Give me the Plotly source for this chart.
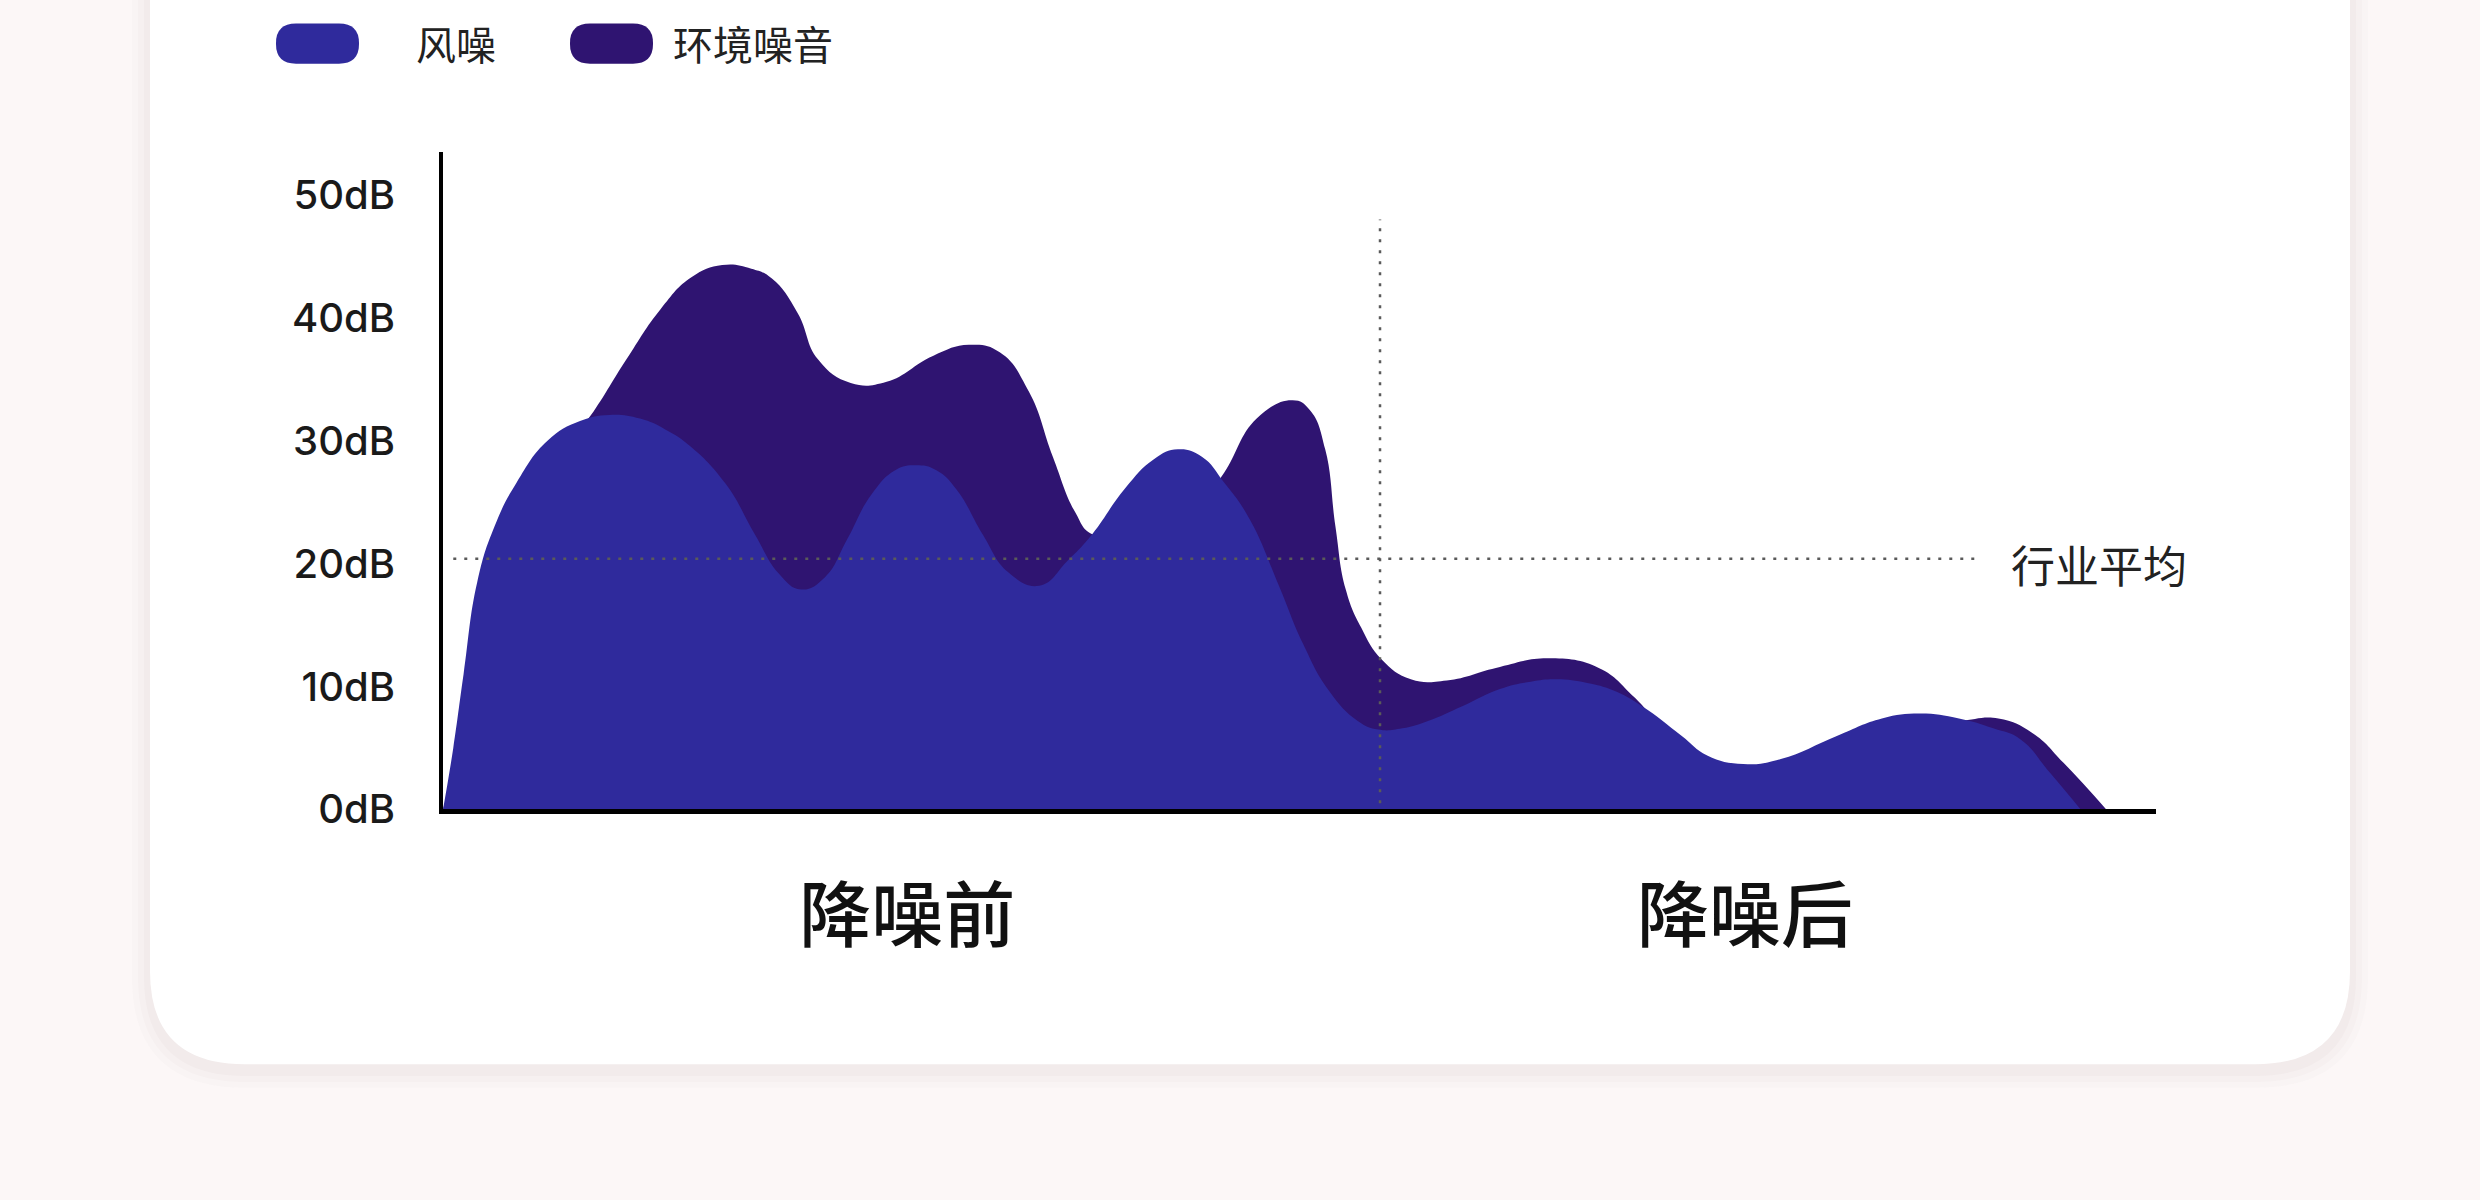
import plotly.graph_objects as go

W, H = 2480, 1200   # design size; all positions are expressed as fractions of it

# ---------------- data ----------------
wind_x = [0, 0.6, 1.2, 2.0, 3.0, 4.3, 6.1, 8.0, 9.7, 11.5, 13.0, 14.4, 16.5, 18.2, 19.6,
          20.9, 22.3, 23.6, 25.0, 26.4, 27.6, 28.8, 30.0, 31.5, 33.0, 34.8, 36.5, 37.9,
          39.8, 41.5, 42.9, 44.3, 45.6, 47.1, 48.8, 50.2, 51.7, 53.4, 54.6, 56.0, 57.5,
          59.5, 61.7, 63.5, 65.0, 66.8, 68.3, 70.0, 72.3, 73.8, 75.9, 78.1, 81.4, 84.0,
          86.2, 88.5, 90.5, 92.1, 93.8, 95.6]
wind_db = [0, 5.0, 11.0, 18.5, 23.0, 26.6, 30.0, 31.6, 32.1, 31.8, 30.9, 29.6, 26.5, 22.4,
           19.2, 17.9, 18.9, 22.0, 25.6, 27.6, 28.0, 27.6, 26.0, 22.4, 19.3, 18.2, 20.3, 22.4,
           26.1, 28.5, 29.3, 28.7, 26.6, 23.6, 18.2, 13.5, 9.7, 7.2, 6.5, 6.6, 7.2,
           8.4, 9.8, 10.4, 10.6, 10.3, 9.7, 8.4, 6.0, 4.4, 3.7, 4.1, 6.0, 7.4,
           7.8, 7.4, 6.6, 5.7, 3.0, 0]

env_x = [0, 5.0, 7.5, 8.8, 10.7, 12.7, 14.5, 16.3, 18.0, 19.2, 20.7, 21.9, 23.8, 25.9,
         28.6, 30.7, 32.5, 34.2, 35.6, 36.9, 37.9, 40.0, 42.5, 44.5, 45.6, 47.5, 49.6,
         50.6, 51.5, 52.1, 52.7, 53.6, 54.8, 56.5, 58.6, 61.7, 64.5, 67.5, 69.5, 71.0,
         74.0, 78.0, 82.0, 86.0, 88.5, 90.8, 92.8, 94.6, 97.1]
env_db = [0, 22, 30, 32.4, 36.6, 40.7, 43.3, 44.3, 44.0, 43.2, 40.4, 36.6, 34.7, 34.8,
          36.9, 37.8, 37.2, 34.0, 28.7, 24.2, 22.4, 22.5, 23.5, 25.5, 27.4, 31.8, 33.3,
          32.5, 29.3, 23.0, 17.9, 14.8, 12.2, 10.6, 10.5, 11.6, 12.3, 11.5, 9.2, 7.0,
          3.5, 3.3, 5.0, 7.0, 7.2, 7.4, 6.2, 3.8, 0]

series_names = ["风噪", "环境噪音"]
y_tick_vals = [0, 10, 20, 30, 40, 50]
y_tick_text = ["0dB", "10dB", "20dB", "30dB", "40dB", "50dB"]
cat_pos = [27.1, 76.0]
cat_labels = ["降噪前", "降噪后"]
industry_avg = 20.4
industry_label = "行业平均"
divider_x = 54.7

# ---------------- style ----------------
WIND_C = "#2f2a9c"
ENV_C = "#2f1471"
BG = "#fcf7f7"
CJK = "Noto Sans CJK SC"
LAT = "Inter, Lato, sans-serif"


def rrect(x0, y0, x1, y1, r):
    """rounded rectangle path in paper coords from design-pixel coords (y down)."""
    def P(x, y):
        return f"{x / W:.6f},{1 - y / H:.6f}"
    return (f"M{P(x0 + r, y0)} L{P(x1 - r, y0)} Q{P(x1, y0)} {P(x1, y0 + r)} "
            f"L{P(x1, y1 - r)} Q{P(x1, y1)} {P(x1 - r, y1)} L{P(x0 + r, y1)} "
            f"Q{P(x0, y1)} {P(x0, y1 - r)} L{P(x0, y0 + r)} Q{P(x0, y0)} {P(x0 + r, y0)} Z")


fig = go.Figure()
fig.add_trace(go.Scatter(x=env_x, y=env_db, name=series_names[1], mode="lines",
                         line=dict(width=0, shape="spline", smoothing=1.3, color=ENV_C),
                         fill="tozeroy", fillcolor=ENV_C, showlegend=False, hoverinfo="skip"))
fig.add_trace(go.Scatter(x=wind_x, y=wind_db, name=series_names[0], mode="lines",
                         line=dict(width=0, shape="spline", smoothing=1.3, color=WIND_C),
                         fill="tozeroy", fillcolor=WIND_C, showlegend=False, hoverinfo="skip"))

shapes = []
# card shadow + card
for i, a in enumerate([0.018, 0.022, 0.03]):
    g = 18 - i * 6
    shapes.append(dict(type="path", xref="paper", yref="paper", layer="below",
                       path=rrect(150 - g, -120, 2350 + g, 1086 + g + 6, 95 + g),
                       fillcolor=f"rgba(120,90,90,{a})", line=dict(width=0)))
shapes.append(dict(type="path", xref="paper", yref="paper", layer="below",
                   path=rrect(150, -120, 2350, 1086, 95),
                   fillcolor="#ffffff", line=dict(width=0)))
# legend pills
shapes.append(dict(type="path", xref="paper", yref="paper", layer="above",
                   path=rrect(276, 24, 359, 65, 20), fillcolor=WIND_C, line=dict(width=0)))
shapes.append(dict(type="path", xref="paper", yref="paper", layer="above",
                   path=rrect(570, 24, 653, 65, 20), fillcolor=ENV_C, line=dict(width=0)))
# dotted reference lines
shapes.append(dict(type="line", xref="x", yref="y", x0=0.6, x1=89.7, y0=industry_avg,
                   y1=industry_avg, layer="above",
                   line=dict(color="#5a5a5a", width=2.5, dash="3px,8px")))
shapes.append(dict(type="line", xref="x", yref="y", x0=divider_x, x1=divider_x, y0=0.5,
                   y1=48, layer="above",
                   line=dict(color="#5a5a5a", width=2.5, dash="3px,8px")))

annotations = [
    dict(xref="paper", yref="paper", x=414 / W, y=1 - 44 / H, xanchor="left", yanchor="middle",
         text=series_names[0], showarrow=False, font=dict(family=CJK, size=40, color="#222222")),
    dict(xref="paper", yref="paper", x=671 / W, y=1 - 44 / H, xanchor="left", yanchor="middle",
         text=series_names[1], showarrow=False, font=dict(family=CJK, size=40, color="#222222")),
    dict(xref="x", yref="y", x=91.4, y=20.0, xanchor="left", yanchor="middle",
         text=industry_label, showarrow=False, font=dict(family=CJK, size=44, color="#222222")),
]

fig.update_layout(
    autosize=True,
    margin=dict(l=0, r=0, t=0, b=0),
    paper_bgcolor=BG, plot_bgcolor="rgba(0,0,0,0)",
    shapes=shapes, annotations=annotations, showlegend=False,
    xaxis=dict(domain=[443 / W, 2156 / W], range=[0, 100], showgrid=False, zeroline=False,
               showline=True, linecolor="#000000", linewidth=5,
               tickvals=cat_pos, ticktext=cat_labels, ticks="",
               tickfont=dict(family=CJK, size=72, color="#111111", weight=500),
               ticklabelstandoff=40, fixedrange=True),
    yaxis=dict(domain=[374 / H, 1045 / H], range=[0, 53.5], showgrid=False, zeroline=False,
               showline=True, linecolor="#000000", linewidth=4,
               tickvals=y_tick_vals, ticktext=y_tick_text, ticks="",
               tickfont=dict(family=LAT, size=40, color="#1a1a1a", weight=500),
               ticklabelstandoff=36, fixedrange=True),
)

post = (
    "document.documentElement.style.margin='0';"
    "document.documentElement.style.overflow='hidden';"
    "document.body.style.margin='0';"
    "document.body.style.overflow='hidden';"
    f"document.body.style.background='{BG}';"
    "var gd=document.getElementById('{plot_id}');"
    "gd.style.position='fixed';gd.style.left='0';gd.style.top='0';"
    "gd.style.width='100vw';gd.style.height='100vh';"
    "Plotly.Plots.resize(gd);"
)
fig.write_html("out.html", config={"displayModeBar": False, "responsive": True},
               default_width="100vw", default_height="100vh", post_script=post)
